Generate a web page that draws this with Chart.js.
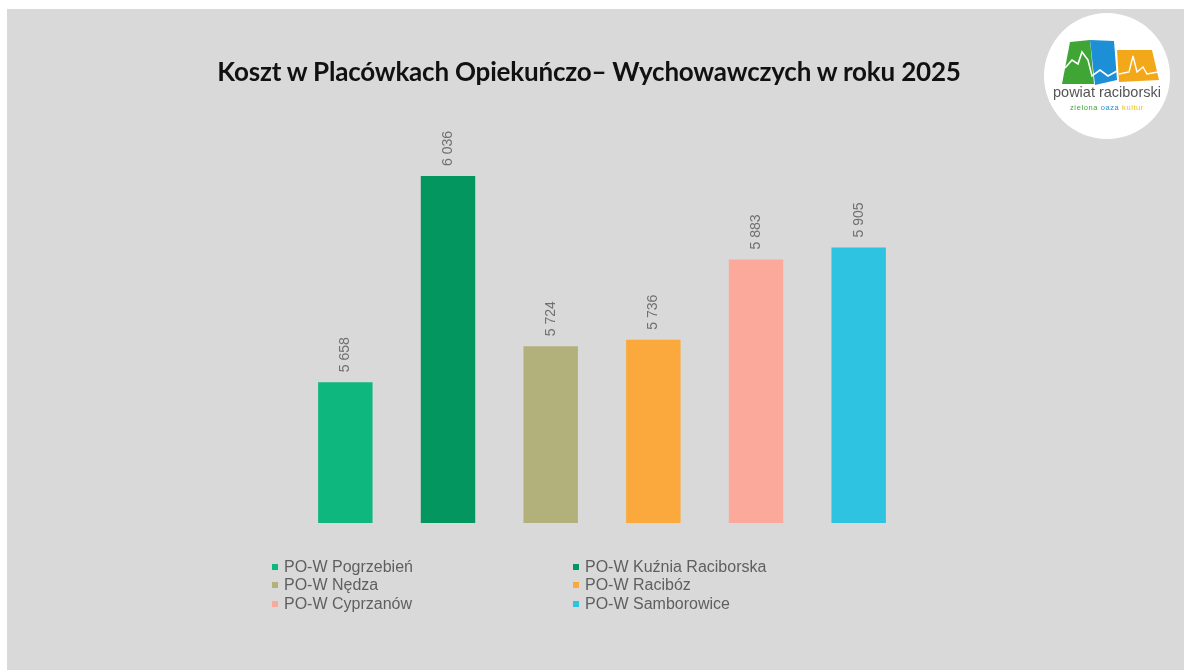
<!DOCTYPE html>
<html lang="pl">
<head>
<meta charset="utf-8">
<title>Koszt w Placówkach Opiekuńczo– Wychowawczych w roku 2025</title>
<script src="https://cdn.jsdelivr.net/npm/chart.js@4.4.1/dist/chart.umd.min.js"></script>
<style>
  html, body { margin:0; padding:0; width:1184px; height:670px; overflow:hidden; background:#fff; }
  .slide { position:absolute; left:7px; top:9px; right:0; bottom:0; background:#d9d9d9; }
  #chart { position:absolute; left:0; top:0; }
  .title {
    position:absolute; left:0; width:1178px; top:55px; text-align:center;
    font:bold 26px Lato, "Open Sans", sans-serif; color:#111; letter-spacing:-0.2px;
  }
  .legend { position:absolute; left:272px; top:558px; font:16px "Liberation Sans", Arial, sans-serif; color:#5f5f5f; }
  .legend .item { position:absolute; white-space:nowrap; height:18px; line-height:18px; }
  .legend .box { position:absolute; left:0; top:6px; width:6px; height:6px; }
  .legend .txt { position:absolute; left:12px; top:0; }
  .logo { position:absolute; left:1040px; top:8px; }
</style>
</head>
<body>
<div class="slide"></div>
<canvas id="chart" width="1184" height="670"></canvas>
<div class="title">Koszt w Placówkach Opiekuńczo– Wychowawczych w roku 2025</div>
<div class="legend" id="legend"></div>
<svg class="logo" width="136" height="136" viewBox="0 0 136 136">
  <circle cx="67" cy="68" r="63" fill="#fff"/>
  <path d="M22 76 L30 34 L50 32 L54 76 Z" fill="#3fa535"/>
  <path d="M50 32 L74 33 L77 72 L55 77 Z" fill="#1d8fd6"/>
  <path d="M77 42 L112 42 L119 72 L79 74 Z" fill="#f3a81a"/>
  <path d="M25 60 L32 52 L38 56 L42 44 L48 52 L52 68 L60 62 L68 68 L77 63" fill="none" stroke="#fff" stroke-width="1.6"/>
  <path d="M79 66 L89 64 L93 48 L97 64 L103 59 L107 66 L118 64" fill="none" stroke="#fff" stroke-width="1.4"/>
  <text x="67" y="89" text-anchor="middle" font-family="'Liberation Sans', Arial" font-size="14.5" fill="#555">powiat  raciborski</text>
  <text x="67" y="102" text-anchor="middle" font-family="'Liberation Sans', Arial" font-size="7.5" letter-spacing="0.6"><tspan fill="#3fa535">zielona</tspan> <tspan fill="#1d8fd6">oaza</tspan> <tspan fill="#f3c01a">kultur</tspan></text>
</svg>
<script>
  // dane
  const placowki = ['PO-W Pogrzebień', 'PO-W Kuźnia Raciborska', 'PO-W Nędza', 'PO-W Racibóz', 'PO-W Cyprzanów', 'PO-W Samborowice'];
  const koszty   = [5658, 6036, 5724, 5736, 5883, 5905];
  const kolory   = ['#0db77d', '#03975f', '#b2b07b', '#fba93c', '#faa99b', '#2ec3e1'];
  const osMin = 5400, osMax = 6100;

  const fmt = v => String(v).replace(/\B(?=(\d{3})+(?!\d))/g, ' ');

  // etykiety nad słupkami (obrócone)
  const valueLabels = {
    id: 'valueLabels',
    afterDatasetsDraw(c) {
      const {ctx} = c;
      ctx.save();
      ctx.font = '14px "Liberation Sans", Arial, sans-serif';
      ctx.fillStyle = '#707070';
      ctx.textAlign = 'left';
      ctx.textBaseline = 'middle';
      c.getDatasetMeta(0).data.forEach((bar, i) => {
        ctx.save();
        ctx.translate(bar.x, bar.y - 10);
        ctx.rotate(-Math.PI / 2);
        ctx.fillText(fmt(koszty[i]), 0, 0);
        ctx.restore();
      });
      ctx.restore();
    }
  };

  new Chart(document.getElementById('chart'), {
    type: 'bar',
    data: {
      labels: placowki,
      datasets: [{ data: koszty, backgroundColor: kolory, borderWidth: 0 }]
    },
    options: {
      responsive: false,
      animation: false,
      layout: { padding: { left: 294, right: 274, top: 141, bottom: 147 } },
      datasets: { bar: { categoryPercentage: 1, barPercentage: 0.53 } },
      scales: {
        x: { display: false },
        y: { display: false, min: osMin, max: osMax }
      },
      plugins: { legend: { display: false }, tooltip: { enabled: false } }
    },
    plugins: [valueLabels]
  });

  // legenda w dwóch kolumnach
  const leg = document.getElementById('legend');
  placowki.forEach((name, i) => {
    const col = i % 2, row = Math.floor(i / 2);
    const it = document.createElement('div');
    it.className = 'item';
    it.style.left = (col * 301) + 'px';
    it.style.top = (row * 18.3) + 'px';
    it.innerHTML = '<span class="box" style="background:' + kolory[i] + '"></span><span class="txt">' + name + '</span>';
    leg.appendChild(it);
  });
</script>
</body>
</html>
